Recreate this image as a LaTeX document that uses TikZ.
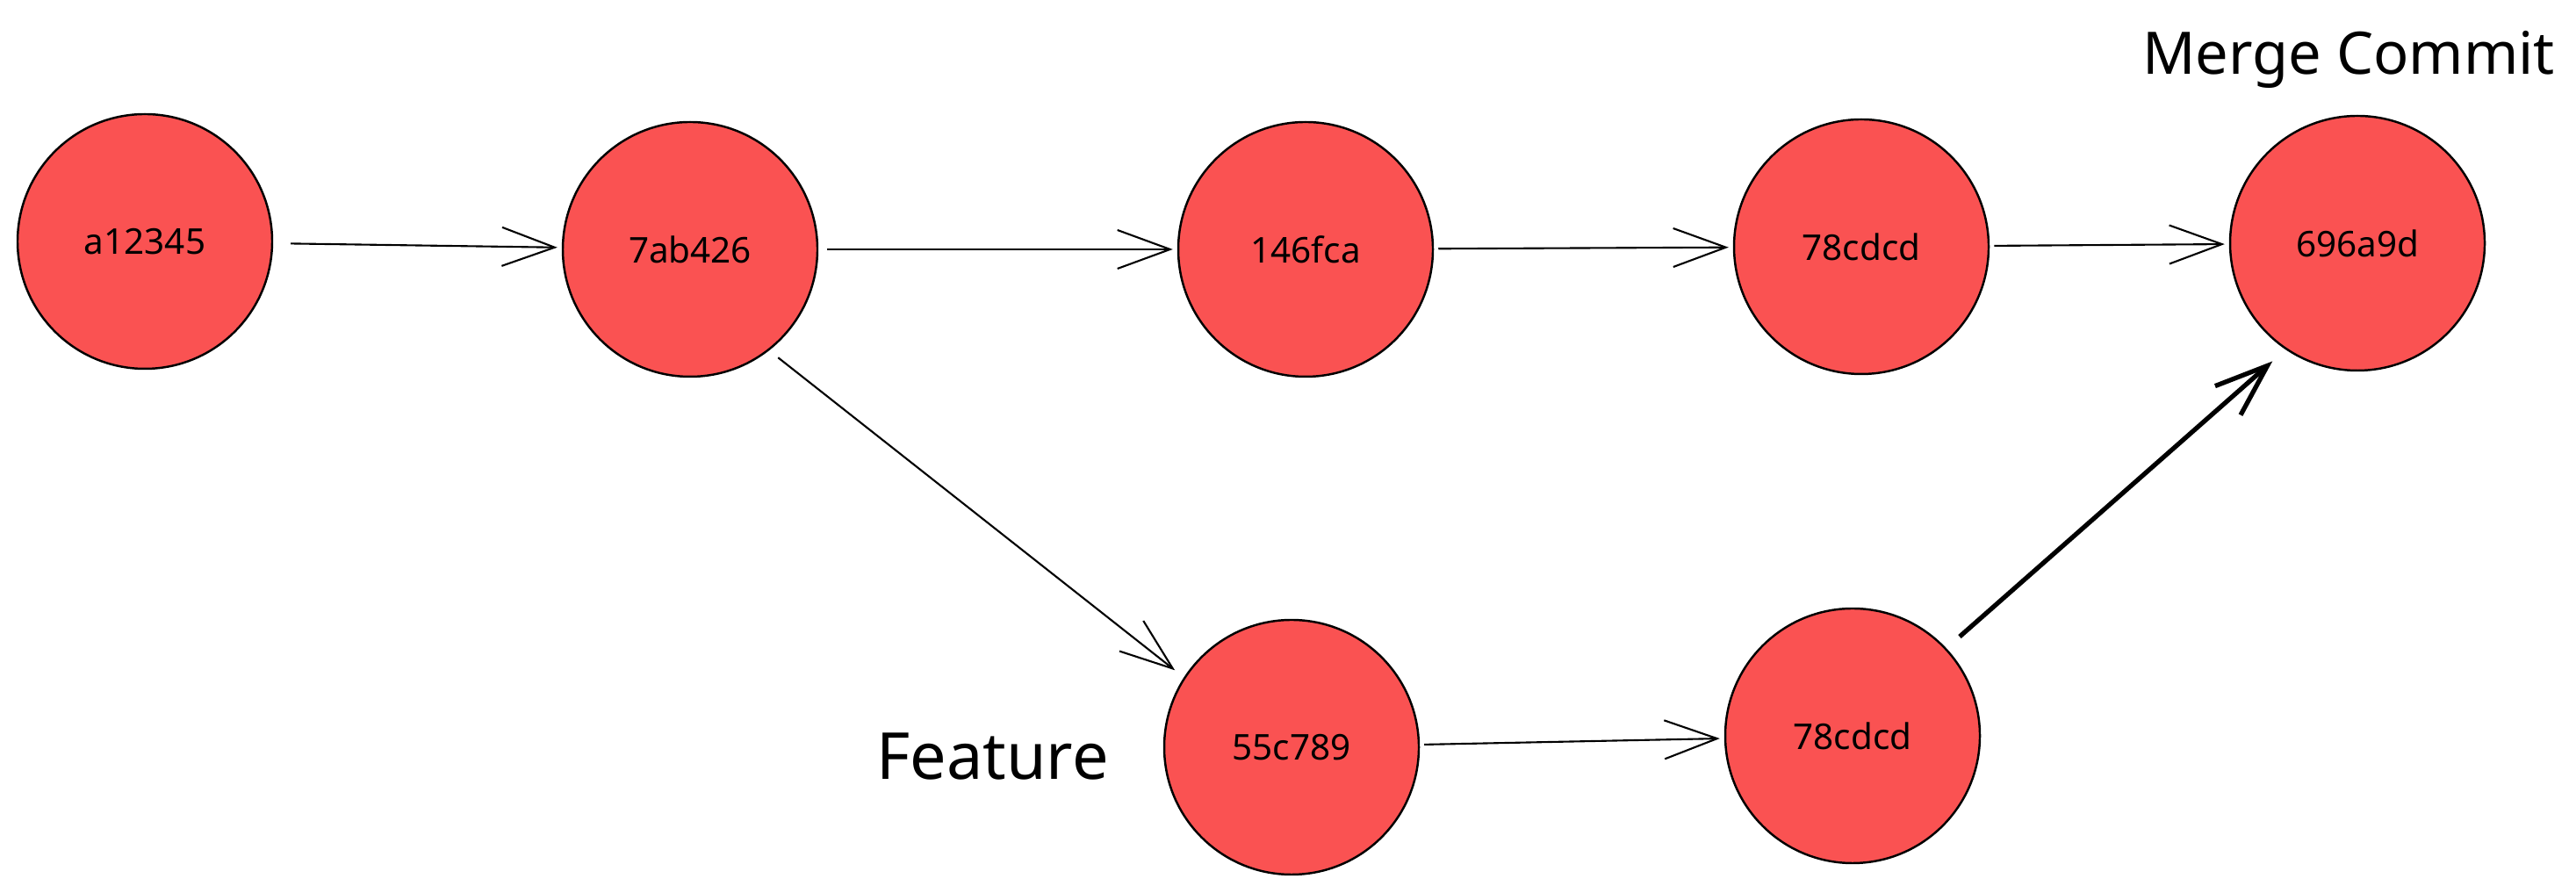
\documentclass[tikz,border=0pt]{standalone}
\usepackage{fontspec}
\setmainfont{Noto Sans}
\usetikzlibrary{arrows.meta,positioning}
\definecolor{commitred}{HTML}{FA5252}
\tikzset{font=\fontsize{11.5}{14}\selectfont}
\tikzset{commit/.style={circle, draw, line width=0.7pt, fill=commitred,
    minimum size=2.9cm, inner sep=0pt}}
\tikzset{link/.style={-{Straight Barb[length=6mm,width=4.4mm]},
    line width=0.6pt, shorten <=0.5mm, shorten >=0.5mm}}
\tikzset{tag/.style={font=\fontsize{19}{22}\selectfont, anchor=base}}

\begin{document}
\begin{tikzpicture}
\useasboundingbox (0,0) rectangle (29.34,10.17);
% main line
\node[commit] (a12345) at (1.65,7.42) {a12345};
\node[commit] (7ab426) at (7.86,7.33) {7ab426};
\node[commit] (146fca) at (14.87,7.33) {146fca};
\node[commit] (78cdcdA) at (21.20,7.36) {78cdcd};
\node[commit] (696a9d) at (26.85,7.40) {696a9d};
% feature branch
\node[commit] (55c789) at (14.71,1.66) {55c789};
\node[commit] (78cdcdB) at (21.10,1.79) {78cdcd};
\node[tag] (merge) at (26.75,9.32) {Merge Commit};
\node[tag, font=\fontsize{21}{25}\selectfont, anchor=base east] (feature) at (12.75,1.29) {Feature};
\draw[link, shorten <=2mm] (a12345) -- (7ab426);
\draw[link, shorten <=1mm] (7ab426) -- (146fca);
\draw[link] (146fca) -- (78cdcdA);
\draw[link] (78cdcdA) -- (696a9d);
\draw[link, shorten <=1.3mm, shorten >=1.3mm] (7ab426.-52) -- (55c789.147);
\draw[link] (55c789) -- (78cdcdB);
\draw[link, line width=1.5pt, shorten <=2mm, shorten >=2mm] (78cdcdB.43) -- (696a9d.-124);
\end{tikzpicture}
\end{document}
